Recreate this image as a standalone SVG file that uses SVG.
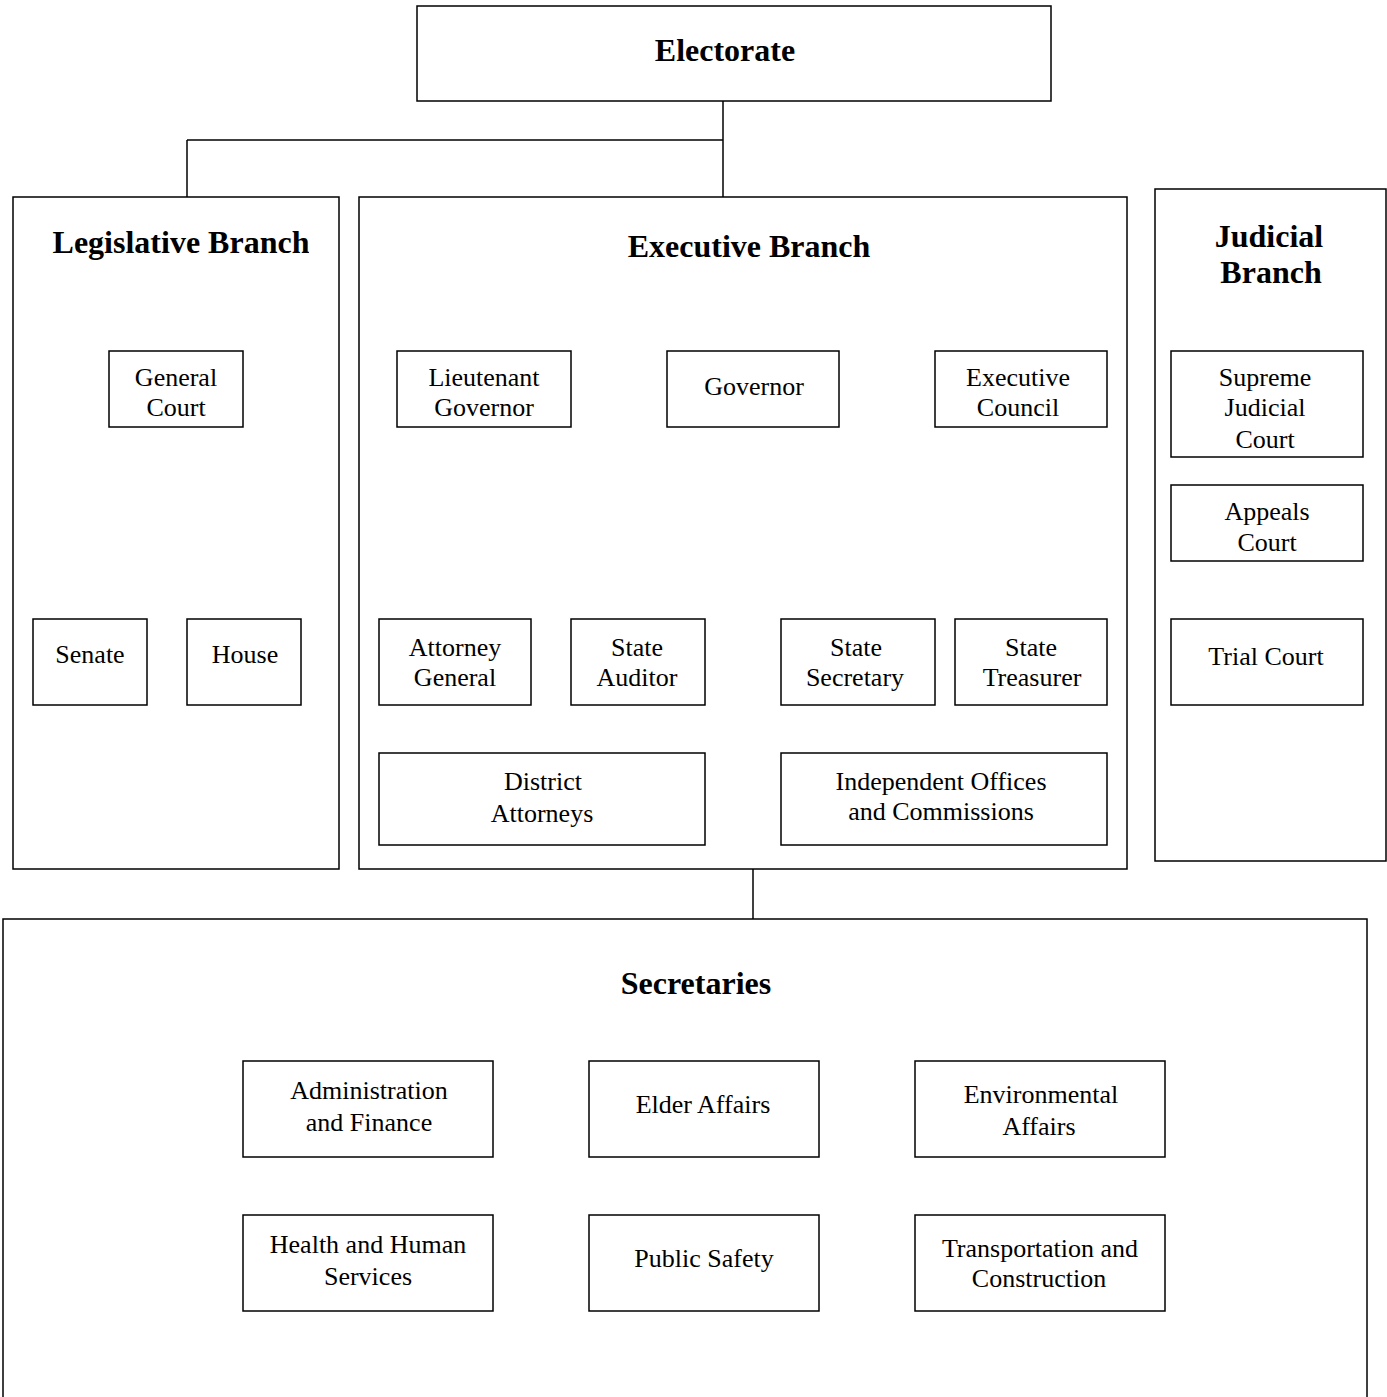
<svg xmlns="http://www.w3.org/2000/svg" width="1387" height="1397" viewBox="0 0 1387 1397">
<style>
rect{fill:#fff;stroke:#000;stroke-width:1.5}
.c line{stroke:#000;stroke-width:1.5}
text{font-family:"Liberation Serif","Times New Roman",serif;fill:#000;text-anchor:middle}
.t{font-size:32px;font-weight:bold}
.n{font-size:26px}
</style>
<defs><clipPath id="legclip"><rect x="13" y="197" width="296" height="672"/></clipPath></defs>
<rect x="0" y="0" width="1387" height="1397" style="stroke:none"/>
<g class="c" id="connectors">
<line x1="723" y1="101" x2="723" y2="197"/>
<line x1="187" y1="140" x2="723" y2="140"/>
<line x1="187" y1="140" x2="187" y2="197"/>
<line x1="753" y1="427" x2="753" y2="919"/>
</g>
<g id="electorate"><rect x="417" y="6" width="634" height="95"/><text class="t" x="725" y="61">Electorate</text></g>
<g id="legislative"><rect x="13" y="197" width="326" height="672"/><text class="t" x="181" y="253" clip-path="url(#legclip)">Legislative Branch</text></g>
<g id="general-court"><rect x="109" y="351" width="134" height="76"/><text class="n" x="176" y="386">General</text><text class="n" x="176" y="416">Court</text></g>
<g id="senate"><rect x="33" y="619" width="114" height="86"/><text class="n" x="90" y="663">Senate</text></g>
<g id="house"><rect x="187" y="619" width="114" height="86"/><text class="n" x="245" y="663">House</text></g>
<g id="executive"><rect x="359" y="197" width="768" height="672"/><text class="t" x="749" y="257">Executive Branch</text></g>
<g id="lt-governor"><rect x="397" y="351" width="174" height="76"/><text class="n" x="484" y="386">Lieutenant</text><text class="n" x="484" y="416">Governor</text></g>
<g id="governor"><rect x="667" y="351" width="172" height="76"/><text class="n" x="754" y="395">Governor</text></g>
<g id="exec-council"><rect x="935" y="351" width="172" height="76"/><text class="n" x="1018" y="386">Executive</text><text class="n" x="1018" y="416">Council</text></g>
<g id="attorney-general"><rect x="379" y="619" width="152" height="86"/><text class="n" x="455" y="656">Attorney</text><text class="n" x="455" y="686">General</text></g>
<g id="state-auditor"><rect x="571" y="619" width="134" height="86"/><text class="n" x="637" y="656">State</text><text class="n" x="637" y="686">Auditor</text></g>
<g id="state-secretary"><rect x="781" y="619" width="154" height="86"/><text class="n" x="856" y="656">State</text><text class="n" x="855" y="686">Secretary</text></g>
<g id="state-treasurer"><rect x="955" y="619" width="152" height="86"/><text class="n" x="1031" y="656">State</text><text class="n" x="1032" y="686">Treasurer</text></g>
<g id="district-attorneys"><rect x="379" y="753" width="326" height="92"/><text class="n" x="543" y="790">District</text><text class="n" x="542" y="822">Attorneys</text></g>
<g id="independent-offices"><rect x="781" y="753" width="326" height="92"/><text class="n" x="941" y="790">Independent Offices</text><text class="n" x="941" y="820">and Commissions</text></g>
<g id="judicial"><rect x="1155" y="189" width="231" height="672"/><text class="t" x="1269" y="247">Judicial</text><text class="t" x="1271" y="283">Branch</text></g>
<g id="supreme-court"><rect x="1171" y="351" width="192" height="106"/><text class="n" x="1265" y="386">Supreme</text><text class="n" x="1265" y="416">Judicial</text><text class="n" x="1265" y="448">Court</text></g>
<g id="appeals-court"><rect x="1171" y="485" width="192" height="76"/><text class="n" x="1267" y="520">Appeals</text><text class="n" x="1267" y="551">Court</text></g>
<g id="trial-court"><rect x="1171" y="619" width="192" height="86"/><text class="n" x="1266" y="665">Trial Court</text></g>
<g id="secretaries"><rect x="3" y="919" width="1364" height="500"/><text class="t" x="696" y="994">Secretaries</text></g>
<g id="admin-finance"><rect x="243" y="1061" width="250" height="96"/><text class="n" x="369" y="1099">Administration</text><text class="n" x="369" y="1131">and Finance</text></g>
<g id="elder-affairs"><rect x="589" y="1061" width="230" height="96"/><text class="n" x="703" y="1113">Elder Affairs</text></g>
<g id="environmental-affairs"><rect x="915" y="1061" width="250" height="96"/><text class="n" x="1041" y="1103">Environmental</text><text class="n" x="1039" y="1135">Affairs</text></g>
<g id="health-human"><rect x="243" y="1215" width="250" height="96"/><text class="n" x="368" y="1253">Health and Human</text><text class="n" x="368" y="1285">Services</text></g>
<g id="public-safety"><rect x="589" y="1215" width="230" height="96"/><text class="n" x="704" y="1267">Public Safety</text></g>
<g id="transportation"><rect x="915" y="1215" width="250" height="96"/><text class="n" x="1040" y="1257">Transportation and</text><text class="n" x="1039" y="1287">Construction</text></g>
</svg>
